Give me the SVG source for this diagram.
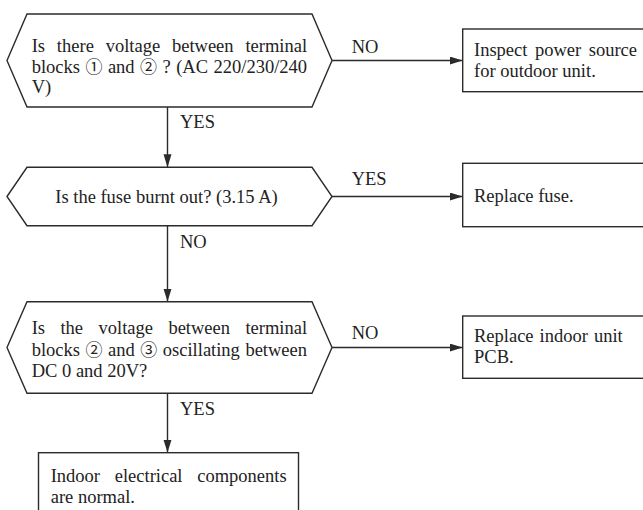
<svg xmlns="http://www.w3.org/2000/svg" width="643" height="510" viewBox="0 0 643 510">
<style>
  .shape { fill: #ffffff; stroke: #2b2b2b; stroke-width: 1.4; }
  .conn { fill: none; stroke: #2b2b2b; stroke-width: 1.4; }
  text { font-family: "Liberation Serif", "Times New Roman", serif; font-size: 18.5px; fill: #222222; }
  .cd { font-family: "Noto Sans CJK JP", "DejaVu Sans", sans-serif; font-size: 17px; }
</style>
<defs>
  <marker id="arrow" markerUnits="userSpaceOnUse" markerWidth="14" markerHeight="10" refX="13" refY="4" orient="auto">
    <path d="M0,0 L13,4 L0,8 Z" fill="#2b2b2b"/>
  </marker>
</defs>
<rect width="643" height="510" fill="#ffffff"/>

<g id="connectors">
  <line class="conn" x1="332" y1="60.5" x2="462.7" y2="60.5" marker-end="url(#arrow)"/>
  <line class="conn" x1="167.5" y1="107" x2="167.5" y2="167.3" marker-end="url(#arrow)"/>
  <line class="conn" x1="332" y1="196.5" x2="462.7" y2="196.5" marker-end="url(#arrow)"/>
  <line class="conn" x1="167.5" y1="225.7" x2="167.5" y2="301.7" marker-end="url(#arrow)"/>
  <line class="conn" x1="332" y1="347.5" x2="462.7" y2="347.5" marker-end="url(#arrow)"/>
  <line class="conn" x1="167.5" y1="393.3" x2="167.5" y2="452.7" marker-end="url(#arrow)"/>
  <text x="351.7" y="52.5">NO</text>
  <text x="180" y="128.3">YES</text>
  <text x="351.7" y="185">YES</text>
  <text x="180" y="248">NO</text>
  <text x="351.7" y="339">NO</text>
  <text x="180" y="415">YES</text>
</g>

<g id="q1">
  <polygon class="shape" points="7,60.5 27,14 312,14 332,60.5 312,107 27,107"/>
  <text x="31.7" y="52" word-spacing="7.2">Is there voltage between terminal</text>
  <text y="72.5"><tspan x="31.7">blocks</tspan><tspan class="cd" x="85.5">①</tspan><tspan x="107.9">and</tspan><tspan class="cd" x="140">②</tspan><tspan x="162.5">?</tspan><tspan x="176.2">(AC</tspan><tspan x="213.5">220/230/240</tspan></text>
  <text x="31.7" y="93">V)</text>
</g>

<g id="a1">
  <rect class="shape" x="462.7" y="29" width="190" height="62.7"/>
  <text x="474" y="56" word-spacing="2.9">Inspect power source</text>
  <text x="474" y="77.3">for outdoor unit.</text>
</g>

<g id="q2">
  <polygon class="shape" points="7,196.5 27,167.3 312,167.3 332,196.5 312,225.7 27,225.7"/>
  <text x="166.5" y="203" text-anchor="middle">Is the fuse burnt out? (3.15 A)</text>
</g>

<g id="a2">
  <rect class="shape" x="462.7" y="163.3" width="190" height="63.4"/>
  <text x="474" y="201.7">Replace fuse.</text>
</g>

<g id="q3">
  <polygon class="shape" points="7,347.5 27,301.7 312,301.7 332,347.5 312,393.3 27,393.3"/>
  <text x="31.7" y="334" word-spacing="10.8">Is the voltage between terminal</text>
  <text y="355.5"><tspan x="31.7">blocks</tspan><tspan class="cd" x="85.5">②</tspan><tspan x="108">and</tspan><tspan class="cd" x="140.3">③</tspan><tspan x="162.8">oscillating</tspan><tspan x="245.4">between</tspan></text>
  <text x="31.7" y="377">DC 0 and 20V?</text>
</g>

<g id="a3">
  <rect class="shape" x="462.7" y="316" width="190" height="62.3"/>
  <text x="474" y="341.7" word-spacing="1.4">Replace indoor unit</text>
  <text x="474" y="362.7">PCB.</text>
</g>

<g id="end">
  <rect class="shape" x="38.5" y="452.7" width="260" height="70"/>
  <text x="50.7" y="481.7" word-spacing="10.1">Indoor electrical components</text>
  <text x="50.7" y="502.7">are normal.</text>
</g>
</svg>
